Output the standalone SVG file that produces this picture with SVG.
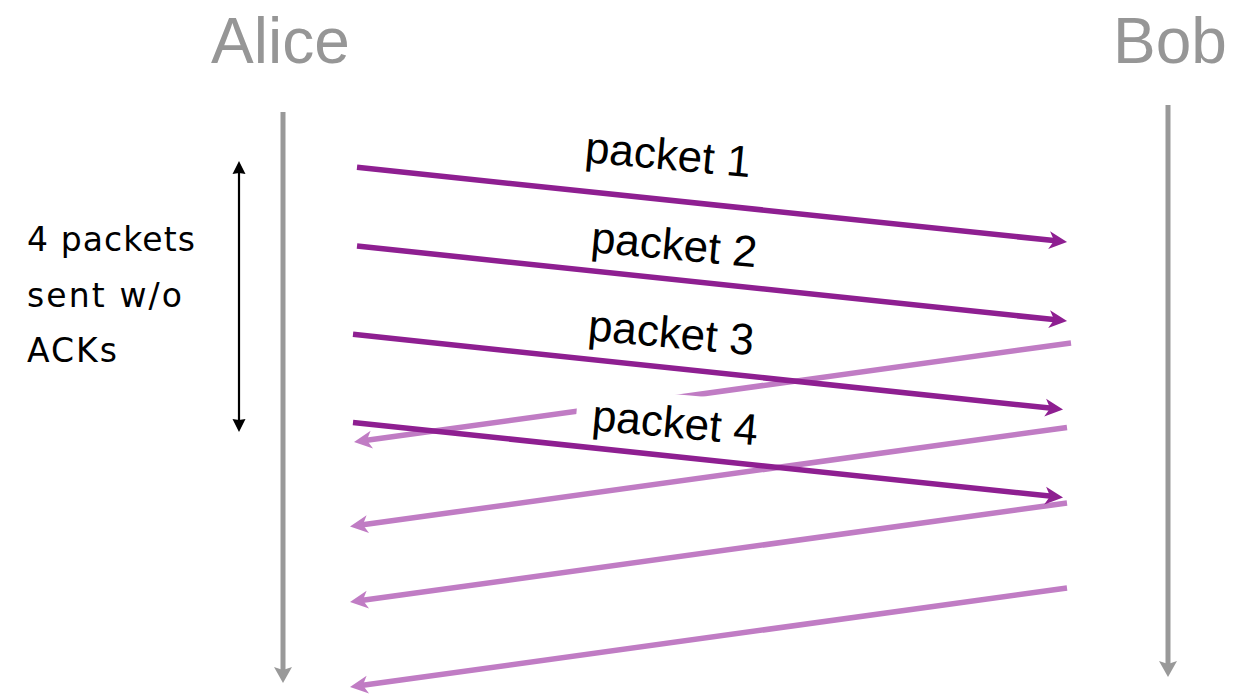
<svg xmlns="http://www.w3.org/2000/svg" width="1233" height="699" viewBox="0 0 1233 699">
<style>
.title{font-family:"Liberation Sans",Arial,sans-serif;font-size:64px;fill:#969696}
.lbl{font-family:"Liberation Sans",Arial,sans-serif;font-size:44px;fill:#000}
.note{font-family:"DejaVu Sans",Verdana,sans-serif;font-size:33px;fill:#000}
.life{stroke:#999;stroke-width:5;fill:none}
.pkt{stroke:#8e1f91;stroke-width:5.5;fill:none}
.ack{stroke:#c07cc4;stroke-width:5.5;fill:none}
</style>
<defs>
<marker id="ahP" markerUnits="userSpaceOnUse" markerWidth="20" markerHeight="20" refX="-11" refY="0" orient="auto" overflow="visible">
<path d="M0,0 L-18,-9 L-13,0 L-18,9 Z" fill="#8e1f91"/>
</marker>
<marker id="ahA" markerUnits="userSpaceOnUse" markerWidth="20" markerHeight="20" refX="-11" refY="0" orient="auto" overflow="visible">
<path d="M0,0 L-18,-9 L-13,0 L-18,9 Z" fill="#c07cc4"/>
</marker>
<marker id="ahG" markerUnits="userSpaceOnUse" markerWidth="20" markerHeight="20" refX="-10" refY="0" orient="auto" overflow="visible">
<path d="M0,0 L-16,-9 L-13,0 L-16,9 Z" fill="#999"/>
</marker>
<marker id="ahK" markerUnits="userSpaceOnUse" markerWidth="20" markerHeight="20" refX="-9" refY="0" orient="auto-start-reverse" overflow="visible">
<path d="M0,0 L-13,-6.5 L-12,0 L-13,6.5 Z" fill="#000"/>
</marker>
</defs>
<rect width="1233" height="699" fill="#fff"/>

<g id="alice">
<text class="title" x="211" y="63">Alice</text>
<line class="life" x1="283" y1="112" x2="283" y2="673" marker-end="url(#ahG)"/>
</g>
<g id="bob">
<text class="title" x="1113" y="63">Bob</text>
<line class="life" x1="1168" y1="105" x2="1168" y2="667" marker-end="url(#ahG)"/>
</g>

<g id="window-note">
<line x1="239" y1="170" x2="239" y2="423" stroke="#000" stroke-width="2.2" marker-start="url(#ahK)" marker-end="url(#ahK)"/>
<text class="note" x="27" y="251" textLength="168" lengthAdjust="spacing">4 packets</text>
<text class="note" x="27" y="307" textLength="155" lengthAdjust="spacing">sent w/o</text>
<text class="note" x="27" y="362" textLength="90" lengthAdjust="spacing">ACKs</text>
</g>

<g id="connectors">
<g id="acks">
<line class="ack" x1="1071" y1="343" x2="364.9" y2="440.5" marker-end="url(#ahA)"/>
<line class="ack" x1="1067" y1="427.5" x2="360.9" y2="525" marker-end="url(#ahA)"/>
<line class="ack" x1="1067" y1="503" x2="360.9" y2="600.5" marker-end="url(#ahA)"/>
<line class="ack" x1="1067" y1="588" x2="360.9" y2="685.5" marker-end="url(#ahA)"/>
</g>
<rect x="-15" y="-43" width="195" height="53" fill="#fff" transform="translate(590,430) rotate(5)"/>
<g id="packets">
<line class="pkt" x1="357" y1="167.3" x2="1056.1" y2="240.85" marker-end="url(#ahP)"/>
<line class="pkt" x1="357" y1="246" x2="1056.1" y2="319.85" marker-end="url(#ahP)"/>
<line class="pkt" x1="353" y1="334.3" x2="1052.1" y2="408.34" marker-end="url(#ahP)"/>
<line class="pkt" x1="353" y1="422.5" x2="1052.1" y2="496.35" marker-end="url(#ahP)"/>
</g>
</g>

<g id="labels">
<text class="lbl" transform="translate(584,162) rotate(5.3)">packet 1</text>
<text class="lbl" transform="translate(590,252) rotate(5.3)">packet 2</text>
<text class="lbl" transform="translate(587,340) rotate(5.3)">packet 3</text>
<text class="lbl" transform="translate(591,430) rotate(5.3)">packet 4</text>
</g>
</svg>
